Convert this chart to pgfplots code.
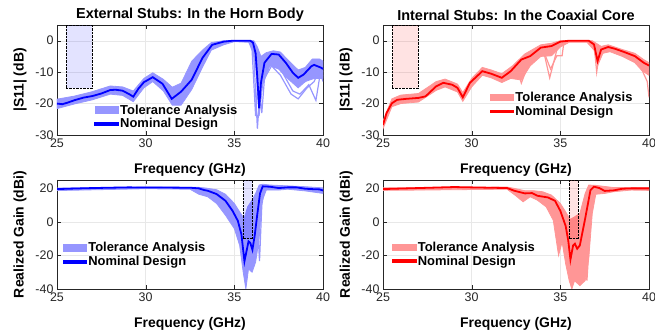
\documentclass[border=0pt]{standalone}
\usepackage{fontspec}
\setmainfont{Liberation Sans}
\usepackage{pgfplots}
\pgfplotsset{compat=1.18}
\definecolor{tolB}{RGB}{150,150,255}
\definecolor{nomBlue}{RGB}{0,0,255}
\definecolor{tolR}{RGB}{255,150,150}
\definecolor{nomRed}{RGB}{255,0,0}
\definecolor{axgray}{RGB}{38,38,38}
\pgfplotsset{
  myax/.style={
    scale only axis, width=266bp,
    xmin=25, xmax=40, xtick={25,30,35,40},
    grid=major, major grid style={draw=gray!18},
    axis line style={draw=axgray}, tick style={draw=axgray},
    tick align=inside,
    ticklabel style={font=\fontsize{12.5}{14}\selectfont, text=axgray},
    /pgf/number format/assume math mode=true,
    label style={font=\bfseries\fontsize{14}{16}\selectfont},
    xlabel style={yshift=-9bp},
    ylabel style={yshift=2bp},
    title style={font=\bfseries\fontsize{14.5}{17}\selectfont, yshift=-5.5bp},
    xlabel={Frequency (GHz)},
    legend style={draw=none, fill=none, inner sep=0pt,
      font=\bfseries\fontsize{13}{15}\selectfont,
      nodes={inner ysep=1.5bp, inner xsep=1bp}},
    legend cell align=left,
  },
  topax/.style={myax, height=110bp, ymin=-30, ymax=5, ytick={-30,-20,-10,0}, ylabel={|S11| (dB)}},
  botax/.style={myax, height=109bp, ymin=-40, ymax=25, ytick={-40,-20,0,20}, ylabel={Realized Gain (dBi)}},
  band/.style={fill=#1, draw=#1, line width=0.8pt, forget plot},
  tolline/.style={draw=#1, line width=1.2pt, forget plot},
  tollegend/.style={draw=#1, line width=1.2pt, legend image code/.code={\fill[fill=#1] (0bp,-3.25bp) rectangle (23bp,3.25bp);}},
  nomline/.style={draw=#1, line width=1.8pt, legend image code/.code={\fill[fill=#1] (0bp,-1bp) rectangle (23bp,1bp);}},
  rectbox/.style={fill=#1, fill opacity=0.11, draw=black, draw opacity=1, densely dotted, forget plot},
}
\begin{document}
\begin{tikzpicture}
% ---------------- Top left ----------------
\begin{axis}[topax, at={(57bp,200bp)}, anchor=south west,
  title={External Stubs: In the Horn Body},
  legend style={at={(axis cs:27.1,-24.3)}, anchor=west}]
% tolerance envelope (upper edge, then lower edge back)
\addplot[band=tolB] coordinates {(25,-18.6)(26,-17.6)(27,-16.2)(28,-14.4)(28.7,-14.7)(29.3,-16)(29.9,-12)(30.4,-10.2)(31,-12.3)(31.5,-14.8)(32,-13.5)(32.6,-6.5)(33.2,-3)(33.7,-0.6)(34.4,0)(36.1,0)(36.3,-2)(36.5,-5)(36.8,-3.8)(37.2,-3.2)(37.6,-3.6)(38,-6)(38.6,-9.3)(39,-8.5)(39.4,-5.8)(39.8,-5.8)(40,-6.5)
 (40,-12)(39.5,-12)(39,-13)(38.6,-15)(38,-12)(37.5,-9)(37,-8)(36.6,-14)(36.4,-24)(36.2,-8)(36,-2)(35.8,-0.5)(35,-0.3)(34.4,-1.3)(33.7,-3)(33.2,-8.5)(32.6,-15.5)(32,-20.5)(31.5,-20.5)(31,-16)(30.4,-13)(29.9,-15)(29.3,-19.4)(28.7,-17.4)(28,-17)(27,-18.8)(26,-20.1)(25,-21.6)} -- cycle;
\addplot[rectbox=nomBlue] coordinates {(25.5,-15) (25.5,5) (27,5) (27,-15)} -- cycle;
\addplot[tolline=tolB] coordinates {(35.8,0)(36,-3)(36.2,-24)(36.35,-10)(36.6,-5)(37,-4)(37.5,-5)(38,-9)(38.6,-14)(39,-13)(39.5,-10)(39.8,-8)(40,-10)};
\addplot[tolline=tolB] coordinates {(35.9,0)(36.1,-5)(36.3,-28)(36.5,-12)(36.8,-7)(37.2,-7)(37.7,-10)(38.3,-16)(38.7,-17)(39.2,-14)(39.6,-19)(39.8,-12)(40,-11)};
\addplot[tolline=tolB] coordinates {(36.1,-1)(36.4,-15)(36.55,-23)(36.7,-12)(37.1,-8)(37.6,-11)(38.2,-17)(38.6,-18.5)(39.1,-15)(39.5,-13)(39.8,-9)(40,-13)};
\addplot[tollegend=tolB] coordinates {(36.2,-2)(36.45,-20)(36.6,-9)(37,-6)(37.5,-7)(38,-10.5)(38.6,-13)(39,-11)(39.4,-8)(39.75,-7)(40,-9)};
\addlegendentry{Tolerance Analysis}
\addplot[nomline=nomBlue] coordinates {(25,-20)(25.3,-20.2)(25.6,-19.7)(26,-18.9)(26.5,-18.1)(27,-17.6)(27.5,-16.8)(28,-15.7)(28.3,-15.6)(28.7,-15.9)(29.1,-17.1)(29.3,-17.8)(29.6,-15.2)(29.9,-13.2)(30.4,-11.6)(30.95,-13.7)(31.47,-18.5)(32,-16.2)(32.6,-12.4)(33.2,-5.5)(33.75,-1.3)(34.4,-0.3)(34.9,0)(35.9,0)(36.05,-0.6)(36.2,-4)(36.3,-12)(36.4,-21.5)(36.5,-13.4)(36.7,-7)(37.1,-4.2)(37.5,-4.4)(37.9,-7)(38.3,-10.2)(38.6,-11.8)(38.9,-10.8)(39.35,-8.1)(39.5,-7.7)(39.9,-8.6)(40,-9)};
\addlegendentry{Nominal Design}
\end{axis}
% ---------------- Top right ----------------
\begin{axis}[topax, at={(383bp,200bp)}, anchor=south west,
  title={Internal Stubs: In the Coaxial Core},
  legend style={at={(axis cs:31.0,-20.3)}, anchor=west}]
\addplot[band=tolR] coordinates {(25,-25.5)(25.5,-18.5)(26,-17.3)(27,-16.8)(28,-13)(28.5,-12.2)(29.2,-13.8)(29.5,-16.5)(30,-12)(30.6,-8.5)(31.1,-9.3)(31.7,-10.5)(32.3,-8)(33,-4.2)(33.9,-1.3)(34.5,-0.8)(35,0)(36.8,0)(37.3,-1.8)(37.7,-1.3)(38.5,-2.8)(39.2,-4)(39.7,-6)(40,-7)
 (40,-11)(39.6,-9.5)(39.2,-7)(38.5,-5)(37.8,-3.5)(37.4,-4)(37.1,-8)(36.9,-3)(36.5,-0.5)(35.5,-0.5)(35,-2)(34.5,-4.8)(33.9,-5)(33.3,-8)(32.8,-12.5)(32.2,-12)(31.7,-13.3)(31.1,-11.8)(30.6,-11)(30,-14.7)(29.5,-19.3)(29.2,-16.3)(28.5,-14.7)(28,-15.8)(27,-19.5)(26,-20)(25.5,-21)(25,-28)} -- cycle;
\addplot[rectbox=nomRed] coordinates {(25.5,-15) (25.5,5) (27,5) (27,-15)} -- cycle;
\addplot[tolline=tolR] coordinates {(34,-2.5)(34.45,-9)(34.8,-4.8)(35.1,-4.8)(35.2,-0.5)};
\addplot[tolline=tolR] coordinates {(32.5,-8)(32.8,-13.5)(33.1,-9)};
\addplot[tolline=tolR] coordinates {(36.9,-1)(37.05,-10)(37.2,-4)};
\addplot[tolline=tolR] coordinates {(39.5,-8)(39.9,-13)(40,-18)};
\addplot[tollegend=tolR] coordinates {(34,-2)(34.4,-11.8)(34.8,-3)(35.1,-0.5)};
\addlegendentry{Tolerance Analysis}
\addplot[nomline=nomRed] coordinates {(25,-26.8)(25.2,-23)(25.5,-19.9)(25.8,-18.8)(26.3,-18.5)(27,-18.2)(27.4,-17.7)(28,-14.5)(28.4,-13.4)(28.9,-14)(29.2,-15)(29.5,-18)(29.9,-13.4)(30.6,-9.7)(31.1,-10.5)(31.7,-11.8)(32.2,-9.7)(32.8,-6)(33.3,-4.9)(33.9,-2.2)(34.5,-1.7)(35,-0.3)(35.5,0)(36.6,0)(36.9,-1.2)(37.1,-6.5)(37.3,-2.8)(37.7,-2)(38.1,-2.6)(38.6,-3.6)(39.2,-4.9)(39.7,-7)(40,-7.9)};
\addlegendentry{Nominal Design}
\end{axis}
% ---------------- Bottom left ----------------
\begin{axis}[botax, at={(57bp,46bp)}, anchor=south west,
  legend style={at={(axis cs:25.3,-19.7)}, anchor=west}]
\addplot[band=tolB] coordinates {(25,20.2)(30,20.8)(33,20.6)(33.4,20.2)(34,19.2)(34.5,16.5)(35,11)(35.3,6)(35.55,2)(35.75,9)(36,13)(36.2,17)(36.4,22)(36.6,22.5)(37,22)(38,21.5)(39,21)(40,20.3)
 (40,17)(39,18.5)(38,19.5)(37.5,19)(36.8,19)(36.55,12)(36.4,-10)(36.2,-24)(36,-30)(35.8,-28)(35.65,-40)(35.5,-30)(35.3,-14)(35,-4)(34.5,4)(34,11)(33.5,15)(33,16.5)(32.5,19.5)(30,19.8)(25,18.7)} -- cycle;
\addplot[rectbox=nomBlue] coordinates {(35.5,-10) (35.5,25) (36,25) (36,-10)} -- cycle;
\addplot[tollegend=tolB] coordinates {(36.1,10)(36.3,0)(36.42,-23.4)(36.55,10)(36.7,20)};
\addlegendentry{Tolerance Analysis}
\addplot[nomline=nomBlue] coordinates {(25,19.6)(26,19.9)(27,20.2)(28,20.4)(29,20.6)(31,20.5)(32.5,20.4)(33,20)(33.3,19)(33.5,18.6)(34,16.6)(34.5,12.6)(34.9,6.6)(35.2,0.6)(35.4,-7.4)(35.57,-23.5)(35.8,-11.6)(35.9,-12.5)(36.02,-16.6)(36.15,-8)(36.3,5)(36.45,17)(36.6,21.2)(37,21)(37.5,20.2)(38,20.6)(38.5,20.6)(39,19.8)(39.5,19.5)(39.8,19.4)(40,18.8)};
\addlegendentry{Nominal Design}
\end{axis}
% ---------------- Bottom right ----------------
\begin{axis}[botax, at={(383bp,46bp)}, anchor=south west,
  legend style={at={(axis cs:25.5,-19.4)}, anchor=west}]
\addplot[band=tolR] coordinates {(25,20.3)(32,20.8)(32.4,20)(33,18.6)(33.5,18.6)(34,18)(34.5,16)(35,11)(35.3,6)(35.55,1.5)(35.8,3)(36.1,5)(36.4,17)(36.6,22)(37,21.8)(38,20.5)(39,20.5)(40,20.3)
 (40,18.8)(39,19)(38,18)(37.5,17)(37,16.5)(36.8,5)(36.6,-22)(36.4,-35)(36.1,-38)(35.8,-35)(35.65,-40)(35.5,-35)(35.3,-25)(35.1,-12)(34.9,-20)(34.6,1)(34.2,9)(33.7,13)(33.3,15)(32.9,12)(32.5,15.5)(32,19.5)(25,18.8)} -- cycle;
\addplot[rectbox=nomRed] coordinates {(35.5,-10) (35.5,25) (36,25) (36,-10)} -- cycle;
\addplot[tollegend=tolR] coordinates {(36.3,-15)(36.5,-35)(36.65,-10)};
\addlegendentry{Tolerance Analysis}
\addplot[nomline=nomRed] coordinates {(25,19.6)(27,20.2)(29,20.8)(31,20.4)(32,20.2)(32.4,18.6)(33,17)(33.4,17.2)(33.7,15.6)(34.3,14.6)(34.7,12.6)(35,6.6)(35.3,-2.4)(35.45,-11.4)(35.57,-22.5)(35.72,-14)(35.82,-13)(35.95,-16)(36.1,-14)(36.4,2)(36.7,19)(36.9,21)(37.2,20.2)(37.5,18.5)(38,18.8)(38.5,19.8)(39,20)(40,20)};
\addlegendentry{Nominal Design}
\end{axis}
\pgfresetboundingbox
\path[use as bounding box] (0,0) rectangle (655bp,335bp);
\end{tikzpicture}
\end{document}
